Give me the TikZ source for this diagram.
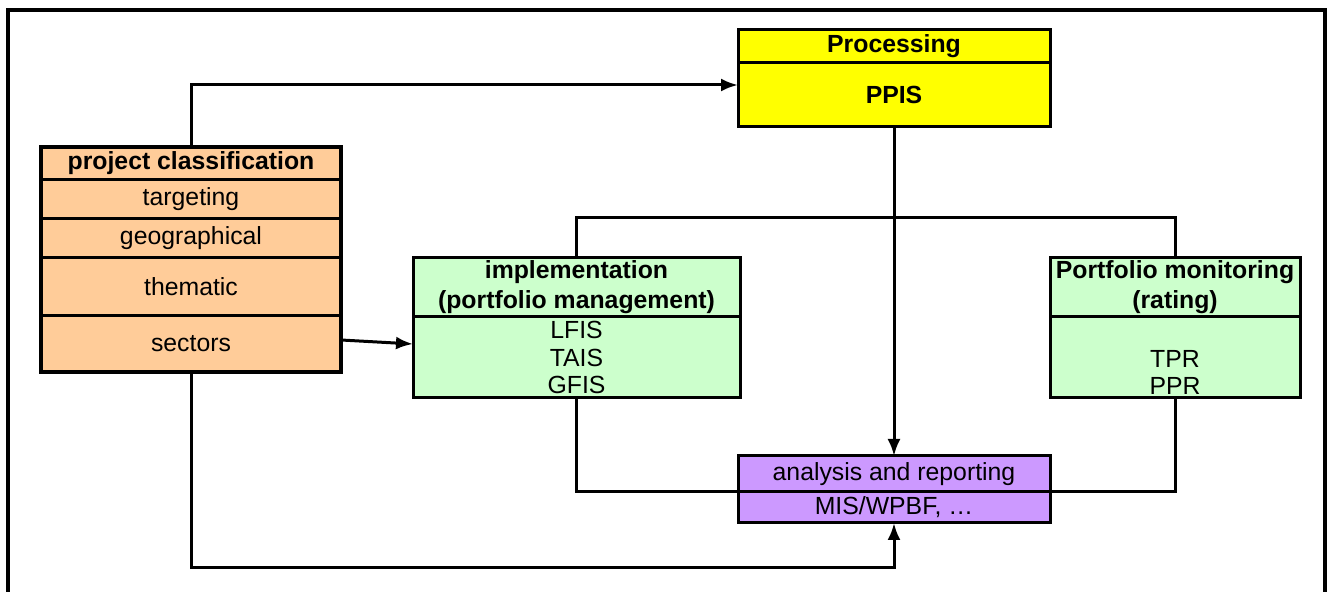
\documentclass[tikz,border=0pt]{standalone}
\usepackage{fontspec}
\setmainfont{Liberation Sans}
\usetikzlibrary{arrows.meta,positioning}
\definecolor{clsorange}{HTML}{FFCC99}
\definecolor{procyellow}{HTML}{FFFF00}
\definecolor{implgreen}{HTML}{CCFFCC}
\definecolor{anapurple}{HTML}{CC99FF}
\tikzset{
  row/.style={draw,line width=1.5pt,inner sep=0pt,outer sep=0pt,align=center,
    font=\fontsize{12.4}{13.6}\selectfont},
  titlerow/.style={row,font=\fontsize{12.4}{15}\selectfont\bfseries},
  conn/.style={line width=1.5pt},
  tip/.style={-{Latex[length=8.5pt,width=6.5pt]}}
}
\begin{document}
\begin{tikzpicture}[x=0.5pt,y=-0.5pt]
    \useasboundingbox (0,0) rectangle (1328,592);
    \draw[line width=2.2pt] (8,592) -- (8,10) -- (1325,10) -- (1325,592);

    \node [titlerow,fill=clsorange,minimum width=150pt,minimum height=16.5pt,anchor=north west] (clsTitle) at (41,147) {project classification};
    \node [row,fill=clsorange,minimum width=150pt,minimum height=19.5pt,below=0pt of clsTitle] (clsTarget) {targeting};
    \node [row,fill=clsorange,minimum width=150pt,minimum height=19.5pt,below=0pt of clsTarget] (clsGeo) {geographical};
    \node [row,fill=clsorange,minimum width=150pt,minimum height=29pt,below=0pt of clsGeo] (clsTheme) {thematic};
    \node [row,fill=clsorange,minimum width=150pt,minimum height=28pt,below=0pt of clsTheme] (clsSec) {sectors};
    \draw[line width=2.4pt] (clsTitle.north west) rectangle (clsSec.south east);

    \node [titlerow,fill=procyellow,minimum width=156pt,minimum height=16.5pt,anchor=north west] (procTop) at (738,30) {Processing};
    \node [titlerow,fill=procyellow,minimum width=156pt,minimum height=32pt,below=0pt of procTop] (procBody) {PPIS};

    \node [titlerow,fill=implgreen,minimum width=163.5pt,minimum height=29.5pt,anchor=north west] (implTop) at (413,258) {implementation\\(portfolio management)};
    \node [row,fill=implgreen,minimum width=163.5pt,minimum height=40.5pt,below=0pt of implTop] (implBody) {LFIS\\TAIS\\GFIS};

    \node [titlerow,fill=implgreen,minimum width=125pt,minimum height=29.5pt,anchor=north west] (monTop) at (1050,258) {Portfolio monitoring\\(rating)};
    \node [row,fill=implgreen,minimum width=125pt,minimum height=40.5pt,below=0pt of monTop] (monBody) {\strut\\TPR\\PPR};

    \node [row,fill=anapurple,minimum width=156pt,minimum height=18pt,anchor=north west] (anaTop) at (738,456) {analysis and reporting};
    \node [row,fill=anapurple,minimum width=156pt,minimum height=15.5pt,below=0pt of anaTop] (anaBody) {MIS/WPBF, \dots};

    \coordinate (procIn) at (738,85);
    \draw[conn,tip] (clsTitle.north) |- (procIn);
    \draw[conn,tip] (procBody.south) -- (anaTop.north);
    \draw[conn] (implTop.north) -- ++(0,-40) -| (monTop.north);
    \draw[conn] (implBody.south) |- (anaTop.south west);
    \draw[conn] (monBody.south) |- (anaTop.south east);
    \draw[conn,tip] ([yshift=2pt]clsSec.east) -- (clsSec.east -| implBody.west);
    \draw[conn,tip] (clsSec.south) -- ++(0,196) -| (anaBody.south);
\end{tikzpicture}
\end{document}
